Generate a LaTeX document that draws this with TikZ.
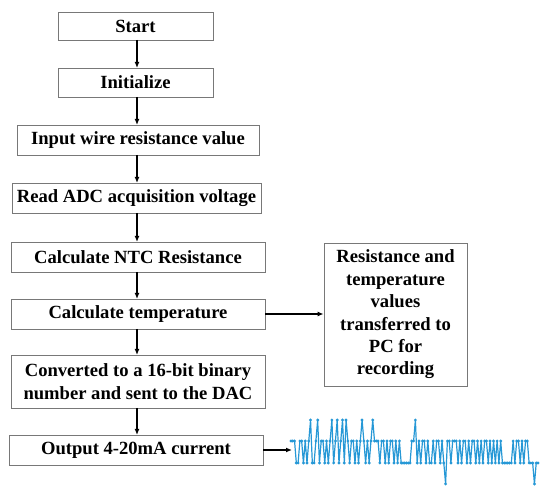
\documentclass[tikz,border=0pt]{standalone}
\usepackage{fontspec}
\setmainfont{Liberation Serif}
\usetikzlibrary{arrows.meta}
\definecolor{wblue}{RGB}{38,152,214}
\definecolor{bgray}{RGB}{120,120,120}
\tikzset{
  stepbox/.style={draw=bgray, line width=0.9pt, fill=white, inner sep=0pt, align=center,
    font=\fontsize{18.6}{22.4}\selectfont\bfseries, minimum height=30pt},
  arr/.style={line width=1.3pt, -{Latex[length=6pt,width=5pt]}},
  wave/.style={wblue, line width=1.2pt, line join=round},
}
\def\U{441}\def\L{463}\def\T{420}\def\B{484}
\begin{document}
\begin{tikzpicture}[x=1pt,y=-1pt]
\useasboundingbox (0,0) rectangle (550,494);
\node[stepbox, minimum width=155pt, minimum height=28pt] (start) at (135.5,26) {Start};
\node[stepbox, minimum width=155pt, minimum height=29pt] (init) at (135.5,82.5) {Initialize};
\node[stepbox, minimum width=242pt] (input) at (138,140) {Input wire resistance value};
\node[stepbox, minimum width=249pt] (read) at (136.5,198) {Read ADC acquisition voltage};
\node[stepbox, minimum width=254pt] (ntc) at (138,257) {Calculate NTC Resistance};
\node[stepbox, minimum width=254pt] (temp) at (138,314) {Calculate temperature};
\node[stepbox, minimum width=254pt, minimum height=53pt] (conv) at (138,381.5) {Converted to a 16-bit binary\\number and sent to the DAC};
\node[stepbox, minimum width=254pt] (out) at (136,450) {Output 4-20mA current};
\node[stepbox, minimum width=143pt, minimum height=143pt] (pc) at (395.5,314.5) {Resistance and\\temperature\\values\\transferred to\\PC for\\recording};
\coordinate (wv) at (292,450);

\draw[arr] (137,40) -- (137,68);
\draw[arr] (137,97) -- (137,125);
\draw[arr] (137,155) -- (137,183);
\draw[arr] (137,213) -- (137,242);
\draw[arr] (137,272) -- (137,299);
\draw[arr] (137,329) -- (137,355);
\draw[arr] (137,408) -- (137,435);
\draw[arr] (temp.east) -- (pc.west |- temp.east);
\draw[arr] (out.east) -- (wv);

\def\wavedata{\U,\U,\U,\L,\L,\U,\U,\L,\U,\L,\U,\T,\L,\L,\U,\T,\L,\U,\U,\L,\U,\L,\U,\T,\L,\U,\T,\L,\U,\T,\L,\T,\U,\L,\U,\U,\L,\U,\L,\U,\T,\U,\L,\U,\L,\U,\T,\U,\U,\U,\L,\U,\U,\L,\U,\L,\U,\U,\L,\U,\L,\U,\L,\L,\L,\L,\L,\L,\U,\U,\T,\L,\U,\L,\U,\U,\L,\U,\L,\L,\U,\L,\U,\U,\L,\U,\L,\B,\U,\U,\L,\U,\U,\U,\L,\U,\L,\U,\U,\L,\U,\L,\U,\U,\L,\U,\L,\U,\L,\U,\U,\L,\U,\L,\U,\L,\U,\L,\U,\L,\L,\L,\L,\L,\L,\U,\L,\U,\U,\L,\U,\L,\U,\U,\L,\L,\L,\B,\L,\L}
\draw[wave] (291,441) \foreach \yy [count=\i from 0] in \wavedata { -- ({291+1.777*\i},\yy) };
\foreach \yy [count=\i from 0] in \wavedata { \fill[wblue] ({291+1.777*\i},\yy) circle (1.6pt); }
\end{tikzpicture}
\end{document}
